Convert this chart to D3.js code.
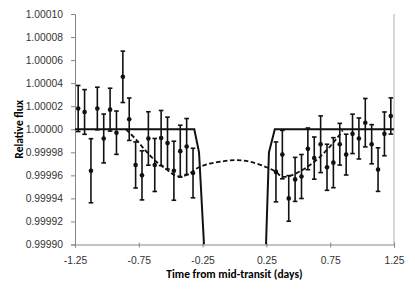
<!DOCTYPE html>
<html lang="en">
<head>
    <meta charset="UTF-8">
    <title>Relative flux vs time from mid-transit</title>
    <script src="https://d3js.org/d3.v7.min.js"></script>
    <style>
        body { margin: 0; background: #fff; }
        svg { display: block; font-family: Carlito, "Liberation Sans", Arial, sans-serif; }
    </style>
</head>
<body>
    <div id="chart"></div>

    <script>
        // observed points: time (days) and relative flux with error
        const obsTime = [-1.225, -1.175, -1.125, -1.075, -1.025, -0.975, -0.925, -0.875, -0.825, -0.775,
                         -0.725, -0.675, -0.625, -0.575, -0.525, -0.475, -0.425, -0.375, -0.325,
                         0.325, 0.375, 0.425, 0.475, 0.525, 0.575, 0.625, 0.675, 0.725, 0.775,
                         0.825, 0.875, 0.925, 0.975, 1.025, 1.075, 1.125, 1.175, 1.225];
        const obsFlux = [1.000018, 1.000015, 0.999964, 1.000018, 0.999992, 1.000017, 0.999997, 1.0000455, 1.0000087, 0.999969,
                         0.999960, 0.999992, 0.999969, 0.9999924, 0.999988, 0.999964, 0.999981, 0.999985, 0.999962,
                         0.999963, 0.999978, 0.999940, 0.9999565, 0.999959, 0.999983, 0.999975, 0.999987, 0.999967, 0.999971,
                         0.999987, 0.999978, 0.999996, 0.999992, 1.0000057, 0.999987, 0.999965, 0.999996, 1.0000115];
        const obsErr = [0.0000200, 0.0000194, 0.0000278, 0.0000185, 0.0000212, 0.0000186, 0.0000188, 0.0000223, 0.0000184, 0.0000200,
                        0.0000213, 0.0000232, 0.0000230, 0.0000239, 0.0000225, 0.0000256, 0.0000225, 0.0000243, 0.0000215,
                        0.0000260, 0.0000210, 0.0000198, 0.0000191, 0.0000191, 0.0000181, 0.0000183, 0.0000246, 0.0000200, 0.0000217,
                        0.0000181, 0.0000177, 0.0000171, 0.0000178, 0.0000210, 0.0000170, 0.0000189, 0.0000190, 0.0000157];

        // transit model (solid), null = off the bottom of the chart
        const transitTime = [-1.25, -0.315, -0.278, -0.239, null, 0.247, 0.270, 0.316, 1.25];
        const transitFlux = [1.0, 1.0, 0.99998, 0.9999, null, 0.9999, 0.99998, 1.0, 1.0];

        // dashed model curve
        const curveTime = [-0.85, -0.766, -0.688, -0.610, -0.531, -0.466, -0.414, -0.362, -0.296, -0.218, -0.114,
                           0.004, 0.121, 0.252, 0.325, 0.370, 0.435, 0.513, 0.592, 0.670, 0.748, 0.801, 0.848];
        const curveFlux = [1.0, 0.9999904, 0.9999803, 0.9999716, 0.999965, 0.999960, 0.999959, 0.999961, 0.999966, 0.9999695, 0.9999718,
                           0.9999733, 0.9999718, 0.999967, 0.999963, 0.999959, 0.9999596, 0.9999635, 0.999969, 0.999976, 0.999985, 0.999992, 0.999999];

        const xTicks = [-1.25, -0.75, -0.25, 0.25, 0.75, 1.25];
        const yTicks = [0.9999, 0.99992, 0.99994, 0.99996, 0.99998, 1.0, 1.00002, 1.00004, 1.00006, 1.00008, 1.0001];

        const width = 415, height = 293;
        const plotLeft = 75, plotRight = 394, plotTop = 14, plotBottom = 244.5;

        const svg = d3.select('#chart')
            .append('svg')
            .attr('width', width)
            .attr('height', height);

        const x = d3.scaleLinear().domain([-1.25, 1.25]).range([plotLeft, plotRight]);
        const y = d3.scaleLinear().domain([0.9999, 1.0001]).range([plotBottom, plotTop]);

        const axisColor = '#868686';

        // right border line at 1.25
        svg.append('line')
            .attr('x1', x(1.25)).attr('x2', x(1.25))
            .attr('y1', plotTop).attr('y2', plotBottom)
            .style('stroke', '#b0b0b0')
            .style('stroke-width', 1);

        // y axis
        const yAxis = svg.append('g')
            .attr('transform', `translate(${plotLeft},0)`)
            .call(d3.axisLeft(y).tickValues(yTicks).tickFormat(d => d.toFixed(5)).tickSize(4).tickPadding(8));

        // x axis, ticks crossing the line
        const xAxis = svg.append('g')
            .attr('transform', `translate(0,${plotBottom})`)
            .call(d3.axisBottom(x).tickValues(xTicks).tickFormat(d => d.toFixed(2)).tickSize(3).tickPadding(9));
        xAxis.selectAll('.tick line').attr('y1', -2);

        [yAxis, xAxis].forEach(g => {
            g.select('.domain').style('stroke', axisColor);
            g.selectAll('.tick line').style('stroke', axisColor);
            g.selectAll('.tick text')
                .style('font-size', '10.3px')
                .style('fill', '#333');
        });

        const plot = svg.append('g');

        svg.append('clipPath').attr('id', 'clip')
            .append('rect')
            .attr('x', plotLeft).attr('y', plotTop)
            .attr('width', plotRight - plotLeft).attr('height', plotBottom - plotTop);

        const obs = obsTime.map((t, i) => ({ t: t, f: obsFlux[i], e: obsErr[i] }));

        // error bars
        const bars = plot.selectAll('.err')
            .data(obs)
            .enter()
            .append('g')
            .attr('class', 'err')
            .style('stroke', '#111')
            .style('stroke-width', 1.6);

        bars.append('line')
            .attr('x1', d => x(d.t)).attr('x2', d => x(d.t))
            .attr('y1', d => y(d.f + d.e)).attr('y2', d => y(d.f - d.e));
        bars.append('line')
            .attr('x1', d => x(d.t) - 2.3).attr('x2', d => x(d.t) + 2.3)
            .attr('y1', d => y(d.f + d.e)).attr('y2', d => y(d.f + d.e));
        bars.append('line')
            .attr('x1', d => x(d.t) - 2.3).attr('x2', d => x(d.t) + 2.3)
            .attr('y1', d => y(d.f - d.e)).attr('y2', d => y(d.f - d.e));

        plot.selectAll('.pt')
            .data(obs)
            .enter()
            .append('circle')
            .attr('class', 'pt')
            .attr('cx', d => x(d.t))
            .attr('cy', d => y(d.f))
            .attr('r', 2.3)
            .style('fill', '#111');

        // model lines
        const transit = transitTime.map((t, i) => ({ t: t, f: transitFlux[i] }));
        const curve = curveTime.map((t, i) => ({ t: t, f: curveFlux[i] }));

        const line = d3.line()
            .defined(d => d.t !== null)
            .x(d => x(d.t))
            .y(d => y(d.f));

        plot.append('path')
            .attr('clip-path', 'url(#clip)')
            .attr('d', line(transit))
            .style('fill', 'none')
            .style('stroke', '#111')
            .style('stroke-width', 2);

        plot.append('path')
            .attr('d', line.curve(d3.curveCatmullRom)(curve))
            .style('fill', 'none')
            .style('stroke', '#111')
            .style('stroke-width', 1.8)
            .style('stroke-dasharray', '4.5,2.5');

        // axis titles
        svg.append('text')
            .attr('x', (plotLeft + plotRight) / 2)
            .attr('y', 278)
            .attr('text-anchor', 'middle')
            .style('font-size', '11.5px')
            .style('font-weight', 'bold')
            .text('Time from mid-transit (days)');

        svg.append('text')
            .attr('transform', `translate(23,${(plotTop + plotBottom) / 2}) rotate(-90)`)
            .attr('text-anchor', 'middle')
            .style('font-size', '11.5px')
            .style('font-weight', 'bold')
            .text('Relative flux');
    </script>
</body>
</html>
